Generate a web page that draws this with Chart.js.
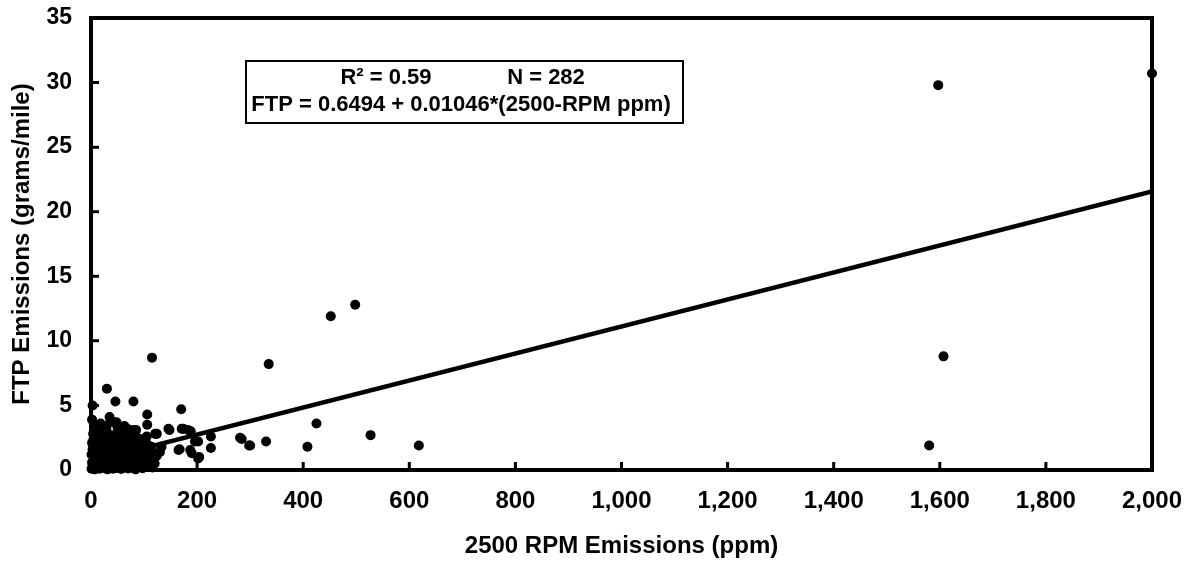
<!DOCTYPE html>
<html>
<head>
<meta charset="utf-8">
<script src="https://cdn.jsdelivr.net/npm/chart.js@4.4.1/dist/chart.umd.min.js"></script>
<style>
  html, body { margin: 0; padding: 0; background: #fff; }
  #wrap { width: 1185px; height: 564px; }
</style>
</head>
<body>
<div id="wrap"><canvas id="c" width="1185" height="564"></canvas></div>
<script>
// ---- data ----
const rpmPpm = [
  // dense cluster near the origin
  1,4,7,10,13,16,19,22,25,28,31,35,38,42,45,49,53,57,61,65,70,74,79,84,90,97,104,116,
  2,6,9,12,15,18,21,24,27,30,33,37,40,44,47,51,55,59,63,68,72,77,81,86,93,100,111,118,
  1,5,8,11,14,17,20,23,26,29,32,36,39,43,46,50,54,58,62,66,71,75,80,88,95,103,118,
  3,6,10,13,16,19,24,27,31,35,38,41,48,52,57,60,64,69,73,83,91,99,
  2,5,9,12,17,22,26,30,34,37,43,47,54,61,67,74,81,89,96,
  4,14,19,29,45,58,70,
  101,108,112,120,106,113,124,97,92,85,
  3,8,15,21,28,34,40,46,52,56,63,67,72,76,82,87,94,99,55,38,27,12,7,24,50,63,18,60,
  // scattered points
  3,2,30,46,80,35,44,36,48,85,80,106,106,121,124,148,146,174,171,188,183,170,115,105,77,
  226,202,196,165,167,187,190,226,204,202,114,133,86,111,58,130,
  281,284,300,298,330,335,408,425,452,498,527,618,
  1580,1597,1607,2000
];
const ftpGpm = [
  0.1,0.3,0.05,0.2,0.35,0.1,0.25,0.4,0.15,0.3,0.05,0.2,0.35,0.1,0.28,0.15,0.38,0.08,0.22,0.3,0.12,0.33,0.18,0.05,0.27,0.14,0.3,0.2,
  0.6,0.85,0.55,0.75,0.9,0.5,0.7,0.88,0.58,0.8,0.65,0.9,0.52,0.78,0.62,0.85,0.55,0.72,0.9,0.6,0.8,0.55,0.7,0.77,0.6,0.5,0.64,0.8,
  1.2,1.05,1.35,1.1,1.3,1.0,1.25,1.4,1.1,1.3,1.0,1.2,1.38,1.05,1.28,1.12,1.35,1.0,1.22,1.4,1.1,1.3,1.05,1.2,1.35,1.1,1.25,
  1.6,1.85,1.5,1.75,1.9,1.55,1.7,1.9,1.6,1.8,1.52,1.7,1.85,1.6,1.55,1.78,1.62,1.9,1.5,1.7,1.6,1.85,
  2.1,2.4,2.0,2.3,2.15,2.45,2.05,2.3,2.5,2.1,2.35,2.05,2.2,2.45,2.1,2.3,2.0,2.25,2.1,
  2.8,2.7,3.0,3.2,2.7,2.75,3.15,
  0.9,1.4,0.3,0.5,2.0,1.05,1.1,1.6,2.4,2.6,
  0.45,1.6,0.6,2.3,1.7,0.9,2.2,0.5,1.3,2.0,0.7,1.8,2.6,0.2,1.4,1.9,0.9,0.2,2.6,2.7,2.5,2.7,3.3,3.3,3.3,3.4,3.6,2.3,
  5.0,3.9,6.3,5.3,5.3,4.1,3.7,3.7,3.7,3.1,3.1,4.3,3.5,2.8,2.8,3.1,3.2,3.2,3.2,3.0,3.1,4.7,8.7,2.6,2.3,
  2.6,2.2,2.2,1.55,1.6,1.55,1.3,1.7,1.0,0.9,1.8,1.8,0.8,0.64,1.55,1.4,
  2.5,2.4,1.9,1.9,2.2,8.2,1.8,3.6,11.9,12.8,2.7,1.9,
  1.9,29.8,8.8,30.7
];
// regression line endpoints (FTP = 0.6494 + 0.01046 * ppm)
const fitPpm = [0, 2000];
const fitFtp = [0.65, 21.57];
const xTicks = [0,200,400,600,800,1000,1200,1400,1600,1800,2000];
const yTicks = [0,5,10,15,20,25,30,35];
const statLine1a = 'R\u00B2 = 0.59';
const statLine1b = 'N = 282';
const statLine2 = 'FTP = 0.6494 + 0.01046*(2500-RPM ppm)';

const FONT = '"Liberation Sans", Arial, sans-serif';

const framePlugin = {
  id: 'frame',
  afterDatasetsDraw(chart) {
    const {ctx, chartArea: a, scales} = chart;
    ctx.save();
    ctx.strokeStyle = '#000';
    // inward tick marks
    ctx.lineWidth = 3;
    ctx.beginPath();
    xTicks.forEach(v => {
      const px = scales.x.getPixelForValue(v);
      ctx.moveTo(px, a.bottom);
      ctx.lineTo(px, a.bottom - 8);
    });
    yTicks.forEach(v => {
      const py = scales.y.getPixelForValue(v);
      ctx.moveTo(a.left, py);
      ctx.lineTo(a.left + 8, py);
    });
    ctx.stroke();
    // frame
    ctx.lineWidth = 4;
    ctx.strokeRect(a.left, a.top, a.right - a.left, a.bottom - a.top);
    // statistics box
    const bx = 246, by = 61, bw = 437, bh = 62;
    ctx.fillStyle = '#fff';
    ctx.fillRect(bx, by, bw, bh);
    ctx.lineWidth = 2;
    ctx.strokeRect(bx, by, bw, bh);
    ctx.fillStyle = '#000';
    ctx.font = 'bold 22px ' + FONT;
    ctx.textAlign = 'center';
    ctx.textBaseline = 'middle';
    ctx.fillText(statLine1a, 386, 78);
    ctx.fillText(statLine1b, 546, 78);
    ctx.fillText(statLine2, 461, 105);
    ctx.restore();
  }
};

new Chart(document.getElementById('c'), {
  type: 'scatter',
  data: {
    datasets: [
      {
        label: 'Vehicles',
        data: rpmPpm.map((x, i) => ({x: x, y: ftpGpm[i]})),
        backgroundColor: '#000',
        borderColor: '#000',
        pointRadius: 5,
        pointHoverRadius: 5,
        borderWidth: 0,
        clip: false
      },
      {
        label: 'Fit',
        type: 'line',
        data: fitPpm.map((x, i) => ({x: x, y: fitFtp[i]})),
        borderColor: '#000',
        borderWidth: 4.5,
        pointRadius: 0,
        fill: false
      }
    ]
  },
  options: {
    responsive: false,
    animation: false,
    events: [],
    layout: { padding: { left: 0, right: 33, top: 18, bottom: 0 } },
    plugins: { legend: { display: false }, tooltip: { enabled: false } },
    scales: {
      x: {
        type: 'linear', min: 0, max: 2000,
        afterBuildTicks: s => { s.ticks = xTicks.map(v => ({value: v})); },
        afterFit: s => { s.height = 94; s.paddingLeft = 0; s.paddingRight = 0; },
        grid: { display: false, drawTicks: false },
        border: { display: false },
        ticks: {
          padding: 17,
          color: '#000',
          font: { family: FONT, size: 24, weight: 'bold' },
          maxRotation: 0,
          callback: v => v.toLocaleString('en-US')
        },
        title: {
          display: true,
          text: '2500 RPM Emissions (ppm)',
          color: '#000',
          font: { family: FONT, size: 24, weight: 'bold' },
          padding: { top: 0, bottom: 3 }
        }
      },
      y: {
        type: 'linear', min: 0, max: 35,
        afterBuildTicks: s => { s.ticks = yTicks.map(v => ({value: v})); },
        afterFit: s => { s.width = 91; s.paddingTop = 0; s.paddingBottom = 0; },
        grid: { display: false, drawTicks: false },
        border: { display: false },
        ticks: {
          padding: 19,
          color: '#000',
          font: { family: FONT, size: 23, weight: 'bold' }
        },
        title: {
          display: true,
          text: 'FTP Emissions (grams/mile)',
          color: '#000',
          font: { family: FONT, size: 24, weight: 'bold' },
          padding: { top: 8, bottom: 0 }
        }
      }
    }
  },
  plugins: [framePlugin]
});
</script>
</body>
</html>
